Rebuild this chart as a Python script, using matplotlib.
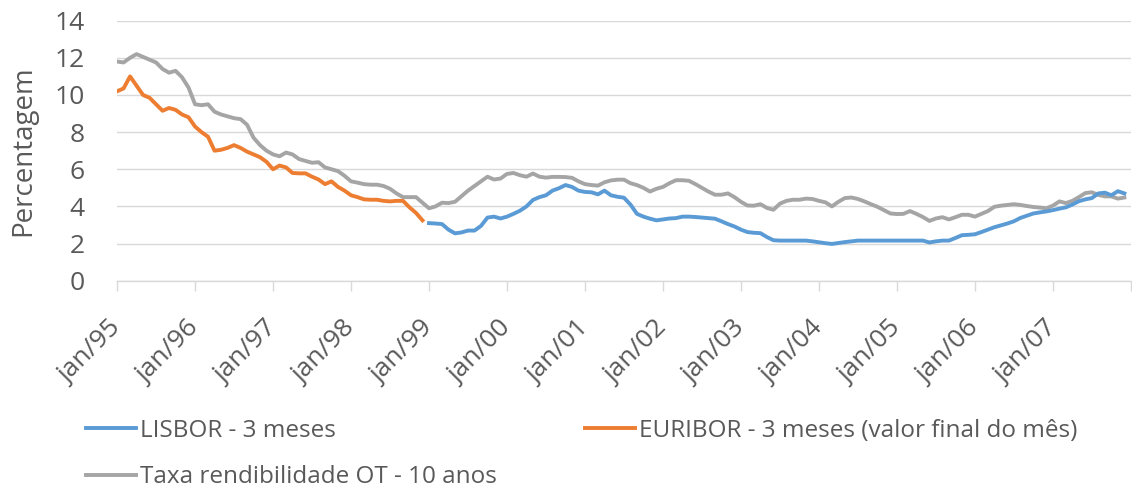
import matplotlib
matplotlib.use("Agg")
import matplotlib.pyplot as plt
import numpy as np

plt.rcParams['font.family'] = ['Open Sans', 'DejaVu Sans']

# ============ DATA (monthly, jan/95 .. dec/07) ============
taxa_ot = [
    11.8, 11.75, 12.0, 12.2, 12.05, 11.9, 11.75, 11.4, 11.2, 11.3, 10.95, 10.4,   # 95
    9.5, 9.45, 9.5, 9.1, 8.95, 8.85, 8.75, 8.7, 8.4, 7.7, 7.3, 7.0,               # 96
    6.8, 6.7, 6.9, 6.8, 6.55, 6.45, 6.35, 6.38, 6.1, 6.0, 5.9, 5.65,             # 97
    5.35, 5.28, 5.2, 5.17, 5.17, 5.1, 4.95, 4.7, 4.5, 4.5, 4.5, 4.2,             # 98
    3.9, 4.0, 4.2, 4.18, 4.25, 4.55, 4.85, 5.1, 5.35, 5.6, 5.45, 5.5,            # 99
    5.75, 5.8, 5.68, 5.6, 5.77, 5.6, 5.55, 5.59, 5.59, 5.58, 5.54, 5.35,         # 00
    5.2, 5.15, 5.12, 5.3, 5.4, 5.44, 5.44, 5.25, 5.15, 5.0, 4.8, 4.95,           # 01
    5.05, 5.25, 5.41, 5.41, 5.38, 5.2, 5.0, 4.8, 4.63, 4.63, 4.7, 4.5,           # 02
    4.25, 4.05, 4.04, 4.12, 3.92, 3.82, 4.15, 4.3, 4.36, 4.36, 4.42, 4.4,        # 03
    4.3, 4.22, 4.0, 4.25, 4.45, 4.48, 4.4, 4.27, 4.12, 3.98, 3.8, 3.62,          # 04
    3.59, 3.6, 3.75, 3.6, 3.43, 3.22, 3.35, 3.42, 3.3, 3.42, 3.55, 3.55,         # 05
    3.45, 3.6, 3.75, 3.98, 4.04, 4.08, 4.12, 4.08, 4.02, 3.97, 3.94, 3.9,        # 06
    4.04, 4.27, 4.18, 4.3, 4.5, 4.72, 4.76, 4.62, 4.54, 4.54, 4.42, 4.48,        # 07
]

euribor = [
    10.2, 10.35, 11.0, 10.5, 10.0, 9.85, 9.5, 9.15, 9.3, 9.2, 8.95, 8.8,         # 95
    8.3, 8.0, 7.75, 7.0, 7.05, 7.15, 7.3, 7.15, 6.95, 6.8, 6.65, 6.4,            # 96
    6.0, 6.2, 6.1, 5.8, 5.78, 5.78, 5.6, 5.45, 5.2, 5.35, 5.05, 4.85,            # 97
    4.6, 4.5, 4.38, 4.36, 4.36, 4.3, 4.27, 4.3, 4.3, 3.95, 3.65, 3.25,           # 98
]

lisbor = [
    3.1, 3.08, 3.05, 2.75, 2.55, 2.6, 2.7, 2.7, 2.95, 3.4, 3.45, 3.35,           # 99
    3.45, 3.6, 3.77, 4.0, 4.35, 4.5, 4.6, 4.85, 4.98, 5.15, 5.05, 4.85,          # 00
    4.78, 4.76, 4.65, 4.85, 4.6, 4.52, 4.47, 4.1, 3.6, 3.45, 3.34, 3.25,         # 01
    3.3, 3.35, 3.37, 3.45, 3.45, 3.43, 3.4, 3.37, 3.34, 3.2, 3.05, 2.92,         # 02
    2.75, 2.62, 2.58, 2.56, 2.35, 2.18, 2.16, 2.16, 2.16, 2.16, 2.16, 2.12,      # 03
    2.07, 2.02, 1.98, 2.03, 2.08, 2.12, 2.16, 2.16, 2.16, 2.16, 2.16, 2.16,      # 04
    2.16, 2.16, 2.16, 2.16, 2.16, 2.06, 2.12, 2.16, 2.16, 2.3, 2.45, 2.47,       # 05
    2.5, 2.62, 2.75, 2.88, 2.98, 3.08, 3.2, 3.38, 3.5, 3.62, 3.68, 3.73,         # 06
    3.8, 3.88, 3.95, 4.1, 4.28, 4.38, 4.45, 4.7, 4.74, 4.6, 4.82, 4.7,           # 07
]

year_labels = ["jan/95", "jan/96", "jan/97", "jan/98", "jan/99", "jan/00", "jan/01",
               "jan/02", "jan/03", "jan/04", "jan/05", "jan/06", "jan/07"]
y_ticks = [0, 2, 4, 6, 8, 10, 12, 14]
# ==========================================================

TEXT = '#595959'
GRID = '#D9D9D9'

fig = plt.figure(figsize=(11.32, 4.9), dpi=100)
ax = fig.add_axes([0.1034, 0.4271, 0.8956, 0.5307])

x_ot = np.arange(len(taxa_ot))
x_eur = np.arange(len(euribor))
x_lis = np.arange(len(euribor), len(euribor) + len(lisbor))

l_lis, = ax.plot(x_lis, lisbor, color='#5B9BD5', lw=2.8, solid_joinstyle='round', zorder=3)
l_eur, = ax.plot(x_eur, euribor, color='#ED7D31', lw=2.8, solid_joinstyle='round', zorder=3)
l_ot, = ax.plot(x_ot, taxa_ot, color='#A5A5A5', lw=2.8, solid_joinstyle='round', zorder=2)

ax.set_xlim(0, 156)
ax.set_ylim(0, 14)
ax.set_yticks(y_ticks)
ax.yaxis.grid(True, color=GRID, lw=1)
ax.set_axisbelow(True)

ax.set_xticks(np.arange(0, 157, 12))
ax.set_xticklabels(year_labels + [""], rotation=45, ha='right', va='center',
                   rotation_mode='anchor')

for s in ['top', 'right', 'left']:
    ax.spines[s].set_visible(False)
ax.spines['bottom'].set_color(GRID)
ax.spines['bottom'].set_linewidth(1)

ax.tick_params(axis='y', length=0, labelsize=19, colors=TEXT, pad=23.5)
ax.tick_params(axis='x', length=7.2, width=1, color=GRID, labelsize=19, labelcolor=TEXT, pad=24)

ax.set_ylabel("Percentagem", fontsize=20, color=TEXT)
ax.yaxis.set_label_coords(-0.079, 0.5)

leg_kw = dict(loc='upper left', frameon=False, fontsize=17.5, labelcolor=TEXT,
              handlelength=2.06, handletextpad=0.18, labelspacing=0.92,
              borderaxespad=0, borderpad=0)
fig.legend([l_lis, l_ot], ["LISBOR - 3 meses", "Taxa rendibilidade OT - 10 anos"],
           bbox_to_anchor=(0.076, 0.145), **leg_kw)
fig.legend([l_eur], ["EURIBOR - 3 meses (valor final do mês)"],
           bbox_to_anchor=(0.5168, 0.145), **leg_kw)

fig.savefig("out.png", dpi=100)
